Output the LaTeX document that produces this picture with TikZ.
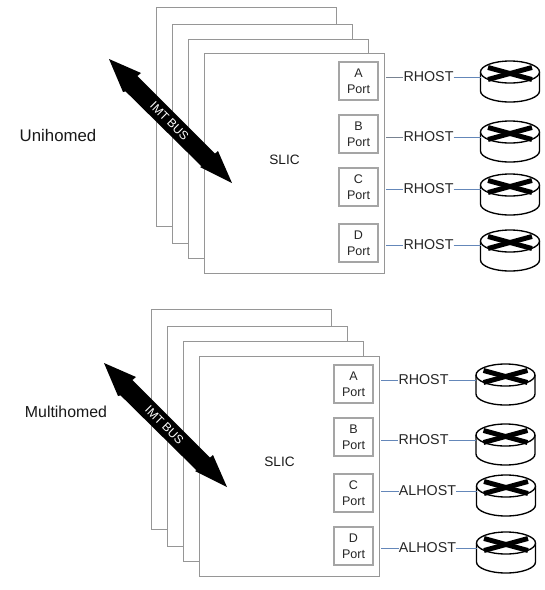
\documentclass[tikz,border=0pt]{standalone}
\usepackage{fontspec}
\setmainfont{Liberation Sans}
\definecolor{pagegray}{RGB}{150,150,150}
\definecolor{portgray}{RGB}{165,165,165}
\definecolor{linkblue}{RGB}{100,135,185}
\definecolor{linkgray}{RGB}{120,130,145}
\tikzset{
 sheet/.style={draw=pagegray,fill=white,line width=0.75pt},
 portbox/.style={draw=portgray,fill=white,line width=1.3pt,minimum width=29.5pt,minimum height=28.5pt,inner sep=0pt,align=center,font=\fontsize{9.4}{12.2}\selectfont,text=black!85},
 hostlabel/.style={inner sep=0pt,font=\fontsize{10.7}{12}\selectfont,text=black!85},
 link/.style={draw=linkblue,line width=0.7pt},
 glink/.style={draw=linkgray,line width=0.7pt},
 routerbox/.style={minimum width=44.25pt,minimum height=30.75pt,inner sep=0pt},
 routerline/.style={draw=black,line width=1pt,fill=white},
 routercross/.style={draw=black,line width=3.7pt,line cap=butt},
 title/.style={inner sep=0pt,text=black!90},
}
% #1 name, #2 centre x, #3 top y
\newcommand{\router}[3]{%
 \node[routerbox,anchor=north] (#1) at (#2,#3) {};
 \draw[routerline] (#2-29.5,#3+11) -- (#2-29.5,#3+30) arc[x radius=29.5,y radius=11,start angle=180,end angle=0] -- (#2+29.5,#3+11);
 \draw[routerline] (#2,#3+11) ellipse[x radius=29.5,y radius=11];
 \draw[routercross] (#2-22,#3+6.5) -- (#2+22,#3+18.5);
 \draw[routercross] (#2-22,#3+18.5) -- (#2+22,#3+6.5);
}
% #1 dx, #2 dy : the bus arrow
\newcommand{\busarrow}[2]{%
 \begin{scope}[shift={(#1,#2)}]
 \fill[black] (109,59) -- (141,73) -- (137.4,76) -- (215,153.6) -- (218,151) -- (232,183) -- (200,167) -- (201.6,166.4) -- (125.6,91.4) -- (123,92) -- cycle;
 \node[rotate=-45,text=white,inner sep=0pt,font=\fontsize{9}{10}\selectfont] (bus#2) at (169.5,121) {IMT BUS};
 \end{scope}
}
\begin{document}
\begin{tikzpicture}[x=0.75pt,y=-0.75pt]
\useasboundingbox (0,0) rectangle (544,590);
\fill[white] (0,0) rectangle (544,590);
% Top group
\draw[sheet] (156,7) rectangle (336,226);
\draw[sheet] (172,24) rectangle (352,243);
\draw[sheet] (188,39) rectangle (368,258);
\draw[sheet] (204,53) rectangle (384,273);
\busarrow{0}{0}
\node[title,font=\fontsize{12.6}{14}\selectfont] (uni) at (58,135) {Unihomed};
\node[title,font=\fontsize{10.2}{12}\selectfont] (slica) at (284.5,160) {SLIC};
\node[portbox] (pa1) at (358.5,81) {A\\Port};
\node[portbox] (pb1) at (358.5,134) {B\\Port};
\node[portbox] (pc1) at (358.5,187) {C\\Port};
\node[portbox] (pd1) at (358.5,243) {D\\Port};
\node[hostlabel] (ha1) at (428.5,77) {RHOST};
\node[hostlabel] (hb1) at (428.5,137) {RHOST};
\node[hostlabel] (hc1) at (428.5,189) {RHOST};
\node[hostlabel] (hd1) at (428.5,245) {RHOST};
\router{ra1}{510}{61}
\router{rb1}{510}{121}
\router{rc1}{510}{174}
\router{rd1}{510}{230}
\coordinate (ea1) at (386,77);\coordinate (eb1) at (386,137);\coordinate (ec1) at (386,189);\coordinate (ed1) at (386,245);
\coordinate (ta1) at (481,77);\coordinate (tb1) at (481,137);\coordinate (tc1) at (481,189);\coordinate (td1) at (481,245);
\draw[glink] (ea1) -- (ha1.west);\draw[link] (ha1.east) -- (ta1);
\draw[glink] (eb1) -- (hb1.west);\draw[link] (hb1.east) -- (tb1);
\draw[link] (ec1) -- (hc1.west);\draw[link] (hc1.east) -- (tc1);
\draw[link] (ed1) -- (hd1.west);\draw[link] (hd1.east) -- (td1);
% Bottom group
\draw[sheet] (151,309) rectangle (331,529);
\draw[sheet] (167,326) rectangle (347,546);
\draw[sheet] (183,341) rectangle (363,561);
\draw[sheet] (199,356) rectangle (379,576);
\busarrow{-5}{304}
\node[title,font=\fontsize{11.9}{14}\selectfont] (multi) at (66,412) {Multihomed};
\node[title,font=\fontsize{10.2}{12}\selectfont] (slicb) at (279.5,462) {SLIC};
\node[portbox] (pa2) at (353.5,384) {A\\Port};
\node[portbox] (pb2) at (353.5,437) {B\\Port};
\node[portbox] (pc2) at (353.5,493) {C\\Port};
\node[portbox] (pd2) at (353.5,546) {D\\Port};
\node[hostlabel] (ha2) at (423.5,380) {RHOST};
\node[hostlabel] (hb2) at (423.5,440) {RHOST};
\node[hostlabel] (hc2) at (427.5,491) {ALHOST};
\node[hostlabel] (hd2) at (427.5,548) {ALHOST};
\router{ra2}{505.5}{364}
\router{rb2}{505.5}{424}
\router{rc2}{506}{475}
\router{rd2}{506}{532}
\coordinate (ea2) at (381,380);\coordinate (eb2) at (381,440);\coordinate (ec2) at (381,491);\coordinate (ed2) at (381,548);
\coordinate (ta2) at (476,380);\coordinate (tb2) at (476,440);\coordinate (tc2) at (477,491);\coordinate (td2) at (477,548);
\draw[link] (ea2) -- (ha2.west);\draw[link] (ha2.east) -- (ta2);
\draw[link] (eb2) -- (hb2.west);\draw[link] (hb2.east) -- (tb2);
\draw[link] (ec2) -- (hc2.west);\draw[link] (hc2.east) -- (tc2);
\draw[link] (ed2) -- (hd2.west);\draw[link] (hd2.east) -- (td2);
\end{tikzpicture}
\end{document}
